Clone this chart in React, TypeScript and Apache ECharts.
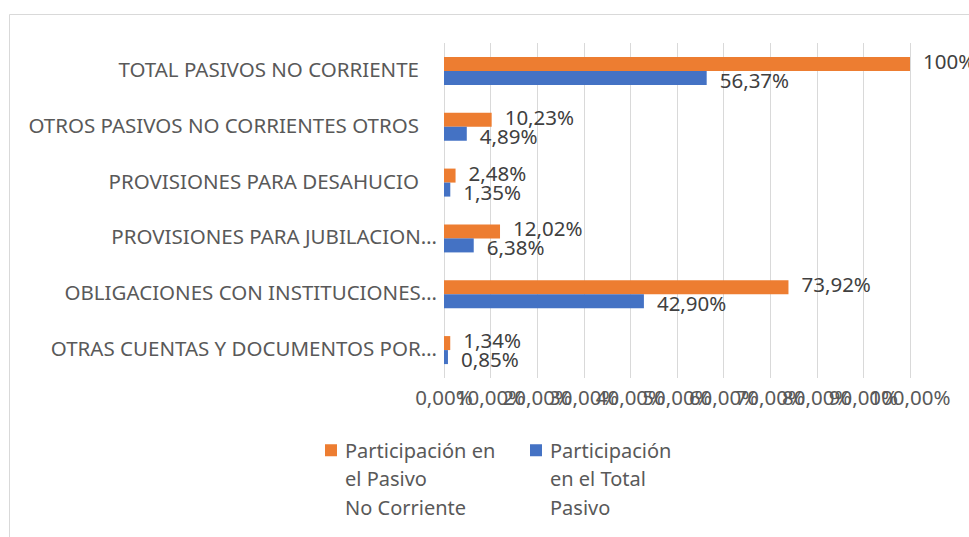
import React, { useEffect, useRef } from "react";
import * as echarts from "echarts";

const categories = [
  "TOTAL PASIVOS NO CORRIENTE",
  "OTROS PASIVOS NO CORRIENTES OTROS",
  "PROVISIONES PARA DESAHUCIO",
  "PROVISIONES PARA JUBILACION…",
  "OBLIGACIONES CON INSTITUCIONES…",
  "OTRAS CUENTAS Y DOCUMENTOS POR…",
];
const pasivoNoCorriente = [100, 10.23, 2.48, 12.02, 73.92, 1.34];
const totalPasivo = [56.37, 4.89, 1.35, 6.38, 42.9, 0.85];
const seriesNames = [
  "Participación en\nel Pasivo\nNo Corriente",
  "Participación\nen el Total\nPasivo",
];
const axisMin = 0;
const axisMax = 100;
const axisInterval = 10;

const FONT = "Noto Sans";
const FS = 20.5;
const fmtPct = (v: number, digits = 2) => v.toFixed(digits).replace(".", ",") + "%";
const fmtLabel = (v: number) => (Number.isInteger(v) ? v + "%" : fmtPct(v));

// legend icon: square near the top of a tall box (box matches legend text block)
const legendIcon = "path://M0,8L12,8L12,20L0,20Z M0,0L0.01,0L0,0Z M15,85L15.01,85L15,85Z";

const axisLabelBase = {
  color: "#595959",
  fontSize: FS,
  fontFamily: FONT,
  margin: 8,
  hideOverlap: false,
  formatter: (v: number) => fmtPct(v),
};

export default function App() {
  const ref = useRef<HTMLDivElement>(null);
  useEffect(() => {
    if (!ref.current) return;
    const chart = echarts.init(ref.current, null, { renderer: "svg" });
    chart.setOption({
      animation: false,
      backgroundColor: "#ffffff",
      textStyle: { fontFamily: FONT },
      graphic: [
        {
          type: "rect",
          shape: { x: 9.5, y: 14.5, width: 1000, height: 600 },
          style: { fill: "none", stroke: "#d9d9d9", lineWidth: 1 },
          silent: true,
        },
      ],
      grid: { left: 444, right: 59, top: 43, bottom: 159, containLabel: false },
      xAxis: [
        {
          type: "value",
          min: axisMin,
          max: axisMax,
          interval: axisInterval,
          axisLine: { show: false },
          axisTick: { show: false },
          splitLine: { show: true, lineStyle: { color: "#d9d9d9", width: 1 } },
          axisLabel: { ...axisLabelBase, showMinLabel: false, showMaxLabel: false },
        },
        {
          type: "value",
          position: "bottom",
          min: axisMin,
          max: axisMax,
          interval: axisMax - axisMin,
          axisLine: { show: false },
          axisTick: { show: false },
          splitLine: { show: false },
          axisLabel: { ...axisLabelBase, showMinLabel: true, showMaxLabel: true },
        },
      ],
      yAxis: {
        type: "category",
        inverse: true,
        data: categories,
        axisLine: { show: false },
        axisTick: { show: false },
        axisLabel: {
          color: "#595959",
          fontSize: FS,
          fontFamily: FONT,
          margin: 7,
          formatter: (v: string) => (v.endsWith("…") ? `{t|${v}}` : `{f|${v}}`),
          rich: {
            t: { color: "#595959", fontSize: FS, fontFamily: FONT, padding: [0, 0, 4, 0] },
            f: { color: "#595959", fontSize: FS, fontFamily: FONT, padding: [0, 18, 4, 0] },
          },
        },
      },
      legend: {
        left: 325,
        top: 436,
        padding: 0,
        orient: "horizontal",
        itemWidth: 15,
        itemHeight: 85,
        itemGap: 20,
        selectedMode: false,
        textStyle: {
          color: "#595959",
          fontSize: 20,
          fontFamily: FONT,
          lineHeight: 28.5,
          width: 165,
        },
        data: [
          { name: seriesNames[0], icon: legendIcon },
          { name: seriesNames[1], icon: legendIcon },
        ],
      },
      series: [
        {
          name: seriesNames[0],
          type: "bar",
          data: pasivoNoCorriente,
          barWidth: 14,
          barGap: "0%",
          itemStyle: { color: "#ed7d31" },
          label: {
            show: true,
            position: "right",
            distance: 13,
            offset: [0, -3],
            color: "#404040",
            fontSize: FS,
            fontFamily: FONT,
            formatter: (p: any) => fmtLabel(p.value),
          },
        },
        {
          name: seriesNames[1],
          type: "bar",
          data: totalPasivo,
          barWidth: 14,
          barGap: "0%",
          itemStyle: { color: "#4472c4" },
          label: {
            show: true,
            position: "right",
            distance: 13,
            offset: [0, 2],
            color: "#404040",
            fontSize: FS,
            fontFamily: FONT,
            formatter: (p: any) => fmtLabel(p.value),
          },
        },
      ],
    });
    return () => chart.dispose();
  }, []);
  return (
    <div
      ref={ref}
      style={{ position: "fixed", left: 0, top: 0, width: 969, height: 537, background: "#fff" }}
    />
  );
}
